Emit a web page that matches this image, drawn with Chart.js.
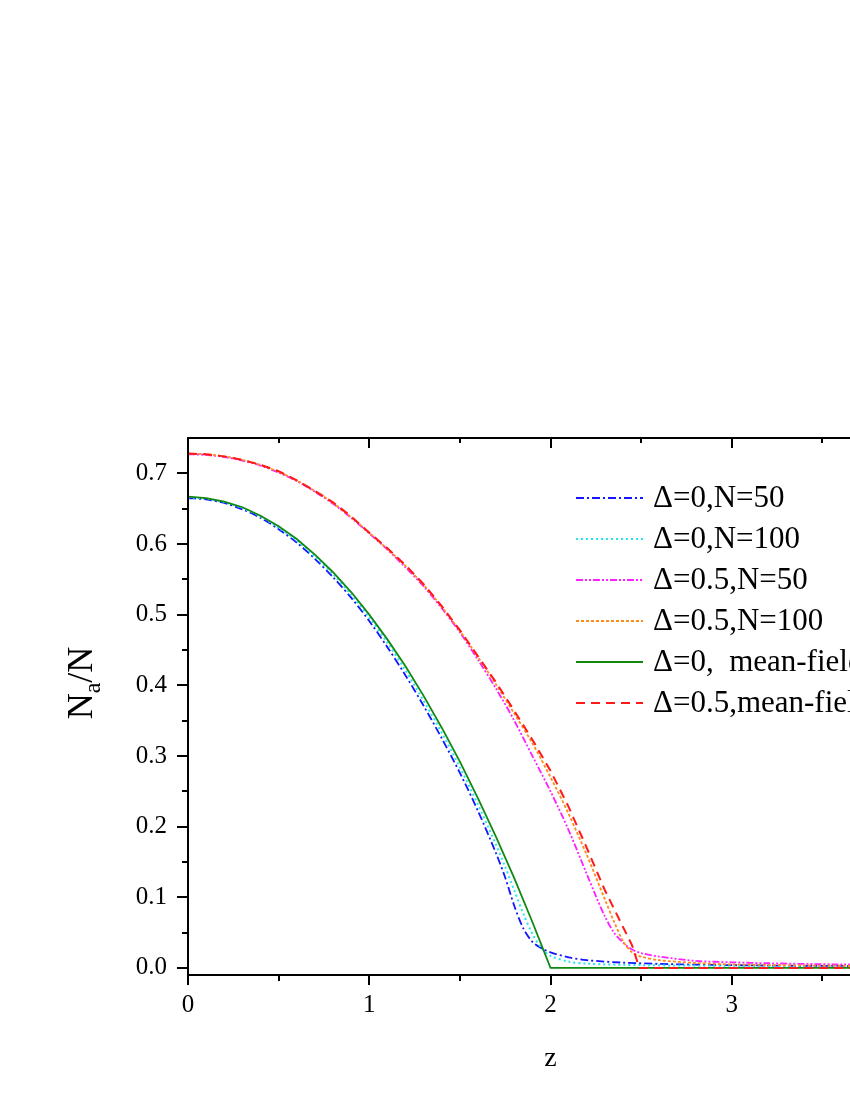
<!DOCTYPE html>
<html><head><meta charset="utf-8">
<script src="https://cdn.jsdelivr.net/npm/chart.js@4.4.0/dist/chart.umd.min.js"></script>
<style>
html,body{margin:0;padding:0;overflow:hidden;background:#fff;width:850px;height:1100px}
#wrap{position:absolute;left:0;top:0;width:1000px;height:1100px}
</style></head>
<body><div id="wrap"><canvas id="c" width="1000" height="1100"></canvas></div>
<script>
// ---- data ----
const seriesLabels = ['\u0394=0,N=50','\u0394=0,N=100','\u0394=0.5,N=50','\u0394=0.5,N=100','\u0394=0,  mean-field','\u0394=0.5,mean-field'];

const zD0N50 = [0,0.1,0.2,0.3,0.4,0.5,0.6,0.7,0.8,0.9,1.0,1.1,1.2,1.3,1.4,1.5,1.6,1.7,1.75,1.8,1.85,1.9,1.95,2.0,2.1,2.2,2.4,2.6,2.8,3.0,3.3,3.6,4.0];
const vD0N50 = [0.665,0.663,0.658,0.649,0.637,0.621,0.602,0.579,0.553,0.524,0.491,0.454,0.414,0.371,0.325,0.276,0.222,0.162,0.128,0.088,0.056,0.037,0.028,0.022,0.015,0.011,0.0075,0.0058,0.0046,0.0039,0.0032,0.0028,0.0024];

const zD0N100 = [0,0.1,0.2,0.3,0.4,0.5,0.6,0.7,0.8,0.9,1.0,1.1,1.2,1.3,1.4,1.5,1.6,1.7,1.75,1.8,1.85,1.9,1.95,2.0,2.1,2.2,2.5,3.0,4.0];
const vD0N100 = [0.666,0.664,0.659,0.651,0.639,0.623,0.605,0.582,0.557,0.528,0.496,0.460,0.421,0.378,0.333,0.284,0.231,0.174,0.143,0.110,0.077,0.048,0.028,0.017,0.009,0.006,0.004,0.003,0.002];

const zD05N50 = [0,0.1,0.2,0.3,0.4,0.5,0.6,0.7,0.8,0.9,1.0,1.1,1.2,1.3,1.4,1.5,1.6,1.7,1.8,1.9,2.0,2.1,2.2,2.25,2.3,2.35,2.4,2.45,2.5,2.6,2.8,3.0,3.2,3.6,4.0];
const vD05N50 = [0.727,0.726,0.723,0.718,0.711,0.701,0.689,0.674,0.657,0.637,0.615,0.592,0.567,0.540,0.509,0.475,0.436,0.395,0.350,0.300,0.250,0.195,0.133,0.102,0.073,0.050,0.036,0.026,0.021,0.016,0.010,0.008,0.0066,0.005,0.004];

const zD05N100 = [0,0.1,0.2,0.3,0.4,0.5,0.6,0.7,0.8,0.9,1.0,1.1,1.2,1.3,1.4,1.5,1.6,1.7,1.8,1.9,2.0,2.1,2.2,2.3,2.35,2.4,2.45,2.5,2.6,2.8,3.0,3.4,4.0];
const vD05N100 = [0.728,0.727,0.724,0.719,0.712,0.702,0.690,0.675,0.658,0.638,0.616,0.593,0.569,0.542,0.511,0.477,0.440,0.401,0.360,0.318,0.270,0.218,0.160,0.097,0.066,0.038,0.022,0.016,0.011,0.007,0.005,0.0035,0.0025];

const zD0MF = [0,0.1,0.2,0.3,0.4,0.5,0.6,0.7,0.8,0.9,1.0,1.1,1.2,1.3,1.4,1.5,1.6,1.7,1.8,1.9,2.0,4.0];
const vD0MF = [0.667,0.665,0.660,0.652,0.640,0.625,0.607,0.585,0.560,0.532,0.500,0.465,0.427,0.385,0.340,0.292,0.240,0.185,0.127,0.065,0.0,0.0];

const zD05MF = [0,0.1,0.2,0.3,0.4,0.5,0.6,0.7,0.8,0.9,1.0,1.1,1.2,1.3,1.4,1.5,1.6,1.7,1.8,1.9,2.0,2.1,2.2,2.3,2.4,2.45,2.49,4.0];
const vD05MF = [0.728,0.727,0.724,0.719,0.712,0.703,0.690,0.675,0.659,0.639,0.616,0.594,0.570,0.543,0.512,0.478,0.441,0.404,0.364,0.323,0.279,0.228,0.170,0.110,0.058,0.032,0.0,0.0];

const xTicks = [0,1,2,3,4];
const yTicks = [0,0.1,0.2,0.3,0.4,0.5,0.6,0.7];

// ---- styles ----
const colors = ['#1515ff','#22e6f0','#ff20ff','#ff8c1a','#118811','#ff1a1a'];
const dashes = [[8,3,2,3],[2,3],[7,2,2,2,2,2],[3,2],[],[9,6]];
const widths = [1.8,2,1.8,1.8,1.8,2];

function pts(zs, vs){ return zs.map((z,i)=>({x:z,y:vs[i]})); }
const zs = [zD0N50,zD0N100,zD05N50,zD05N100,zD0MF,zD05MF];
const vs = [vD0N50,vD0N100,vD05N50,vD05N100,vD0MF,vD05MF];

const datasets = seriesLabels.map((lab,i)=>({
  label: lab,
  data: pts(zs[i], vs[i]),
  borderColor: colors[i],
  borderWidth: widths[i],
  borderDash: dashes[i],
  pointRadius: 0,
  fill: false,
  tension: (i===4||i===5) ? 0 : 0.3,
  order: 5-i
}));

const FONT = '"Liberation Serif","Times New Roman",serif';

const framePlugin = {
  id: 'frame',
  afterDraw(chart){
    const ctx = chart.ctx, a = chart.chartArea;
    const xs = chart.scales.x, ys = chart.scales.y;
    ctx.save();
    ctx.strokeStyle = '#000';
    ctx.lineWidth = 2;
    ctx.setLineDash([]);
    ctx.beginPath();
    ctx.moveTo(a.left, a.top); ctx.lineTo(a.right, a.top);
    ctx.moveTo(a.left, a.bottom); ctx.lineTo(a.right, a.bottom);
    ctx.moveTo(a.left, a.top-1); ctx.lineTo(a.left, a.bottom+1);
    ctx.moveTo(a.right, a.top-1); ctx.lineTo(a.right, a.bottom+1);
    for (let k=0;k<=8;k++){
      const v = k*0.5, px = Math.round(xs.getPixelForValue(v));
      const major = (k%2===0);
      ctx.moveTo(px, a.bottom); ctx.lineTo(px, a.bottom + (major?10:6));
      ctx.moveTo(px, a.top); ctx.lineTo(px, a.top + (major?10:5));
    }
    for (let k=0;k<=14;k++){
      const v = k*0.05, py = Math.round(ys.getPixelForValue(v));
      const major = (k%2===0);
      ctx.moveTo(a.left, py); ctx.lineTo(a.left - (major?11:6), py);
      ctx.moveTo(a.right, py); ctx.lineTo(a.right - (major?10:5), py);
    }
    ctx.stroke();

    ctx.fillStyle = '#000';
    ctx.font = '28px ' + FONT;
    ctx.textAlign = 'center';
    ctx.textBaseline = 'alphabetic';
    ctx.fillText('z', (a.left+a.right)/2, 1066);

    ctx.save();
    ctx.translate(92, 683);
    ctx.rotate(-Math.PI/2);
    const big = '36px ' + FONT, small = '24px ' + FONT;
    ctx.font = big; const wN = ctx.measureText('N').width, wS = ctx.measureText('/N').width;
    ctx.font = small; const wa = ctx.measureText('a').width;
    let x0 = -(wN + wa + wS)/2;
    ctx.textAlign = 'left';
    ctx.font = big; ctx.fillText('N', x0, 0); x0 += wN;
    ctx.font = small; ctx.fillText('a', x0, 8); x0 += wa;
    ctx.font = big; ctx.fillText('/N', x0, 0);
    ctx.restore();

    const lx0 = 576, lx1 = 643, tx = 653, ly0 = 498, dy = 41;
    ctx.font = '31px ' + FONT;
    ctx.textAlign = 'left';
    ctx.textBaseline = 'middle';
    chart.data.datasets.forEach((ds,i)=>{
      const y = ly0 + i*dy;
      ctx.strokeStyle = ds.borderColor;
      ctx.lineWidth = ds.borderWidth;
      ctx.setLineDash(ds.borderDash);
      ctx.beginPath(); ctx.moveTo(lx0, y); ctx.lineTo(lx1, y); ctx.stroke();
      ctx.setLineDash([]);
      ctx.fillStyle = '#000';
      ctx.fillText(ds.label, tx, y+1);
    });
    ctx.restore();
  }
};

new Chart(document.getElementById('c'), {
  type: 'line',
  data: { datasets },
  options: {
    responsive: false,
    animation: false,
    devicePixelRatio: 1,
    layout: { padding: { left: 0, top: 438, right: 87, bottom: 0 } },
    plugins: { legend: { display: false }, tooltip: { enabled: false }, title: { display: false } },
    scales: {
      x: {
        type: 'linear', min: 0, max: 4,
        grid: { display: false },
        border: { display: false },
        afterBuildTicks: s => { s.ticks = xTicks.map(v=>({value:v})); },
        ticks: { color: '#000', font: { family: FONT, size: 25 }, padding: 7, maxRotation: 0,
                 callback: v => String(v) },
        afterFit: s => { s.height = 125; }
      },
      y: {
        type: 'linear', min: -0.01, max: 0.75,
        grid: { display: false },
        border: { display: false },
        afterBuildTicks: s => { s.ticks = yTicks.map(v=>({value:v})); },
        ticks: { color: '#000', font: { family: FONT, size: 25 }, padding: 13,
                 callback: v => Number(v).toFixed(1) },
        afterFit: s => { s.width = 188; }
      }
    }
  },
  plugins: [framePlugin]
});
</script>
</body></html>
